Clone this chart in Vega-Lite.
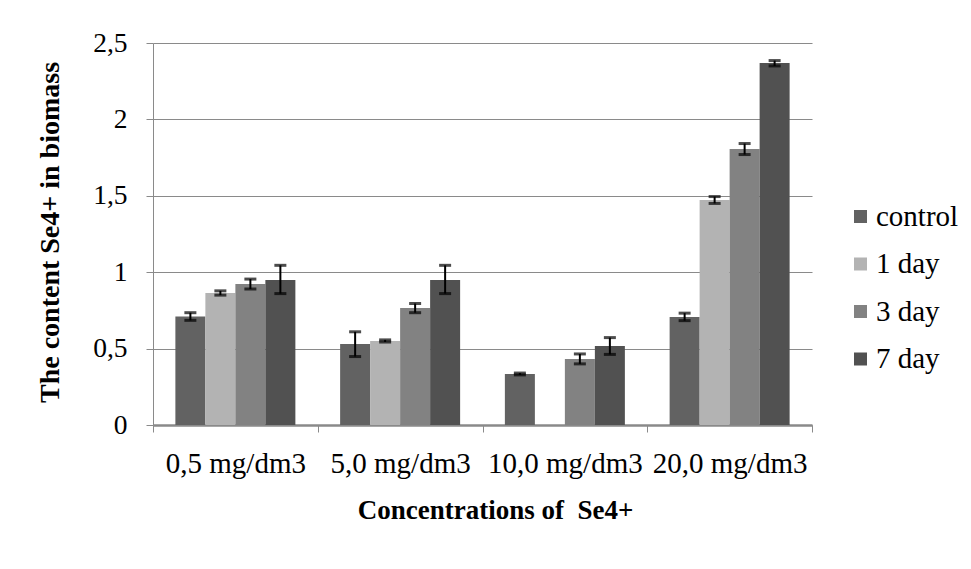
{
  "$schema": "https://vega.github.io/schema/vega-lite/v6.json",
  "width": 659,
  "height": 382,
  "autosize": {"type": "none"},
  "padding": {"left": 153, "top": 43, "right": 159, "bottom": 144},
  "background": "white",
  "data": {
    "values": [
      {"conc": "0,5 mg/dm3", "day": "control", "value": 0.71, "lo": 0.685, "hi": 0.735},
      {"conc": "0,5 mg/dm3", "day": "1 day", "value": 0.864, "lo": 0.85, "hi": 0.878},
      {"conc": "0,5 mg/dm3", "day": "3 day", "value": 0.922, "lo": 0.89, "hi": 0.955},
      {"conc": "0,5 mg/dm3", "day": "7 day", "value": 0.949, "lo": 0.86, "hi": 1.045},
      {"conc": "5,0 mg/dm3", "day": "control", "value": 0.53, "lo": 0.448, "hi": 0.61},
      {"conc": "5,0 mg/dm3", "day": "1 day", "value": 0.55, "lo": 0.543, "hi": 0.557},
      {"conc": "5,0 mg/dm3", "day": "3 day", "value": 0.766, "lo": 0.735, "hi": 0.795},
      {"conc": "5,0 mg/dm3", "day": "7 day", "value": 0.949, "lo": 0.86, "hi": 1.045},
      {"conc": "10,0 mg/dm3", "day": "control", "value": 0.334, "lo": 0.328, "hi": 0.34},
      {"conc": "10,0 mg/dm3", "day": "3 day", "value": 0.432, "lo": 0.4, "hi": 0.465},
      {"conc": "10,0 mg/dm3", "day": "7 day", "value": 0.517, "lo": 0.462, "hi": 0.572},
      {"conc": "20,0 mg/dm3", "day": "control", "value": 0.707, "lo": 0.683, "hi": 0.732},
      {"conc": "20,0 mg/dm3", "day": "1 day", "value": 1.473, "lo": 1.45, "hi": 1.495},
      {"conc": "20,0 mg/dm3", "day": "3 day", "value": 1.806, "lo": 1.77, "hi": 1.842},
      {"conc": "20,0 mg/dm3", "day": "7 day", "value": 2.369, "lo": 2.35, "hi": 2.385}
    ]
  },
  "encoding": {
    "x": {
      "field": "conc",
      "type": "nominal",
      "sort": null,
      "scale": {"paddingInner": 0, "paddingOuter": 0},
      "axis": {
        "title": "Concentrations of \u00a0Se4+",
        "titleFont": "Liberation Serif, Times New Roman, serif",
        "titleFontSize": 27,
        "titleFontWeight": "bold",
        "titleColor": "black",
        "titleX": 342,
        "titleY": 93,
        "titleAlign": "center",
        "titleBaseline": "alphabetic",
        "labelAngle": 0,
        "labelFont": "Liberation Serif, Times New Roman, serif",
        "labelFontSize": 29,
        "labelColor": "black",
        "labelPadding": 17,
        "labelOverlap": false,
        "tickBand": "extent",
        "tickSize": 7,
        "tickColor": "#8a8a8a",
        "domainColor": "#8a8a8a",
        "domainWidth": 2.5,
        "grid": false
      }
    },
    "xOffset": {
      "field": "day",
      "type": "nominal",
      "sort": ["control", "1 day", "3 day", "7 day"],
      "scale": {"domain": ["control", "1 day", "3 day", "7 day"], "paddingInner": 0, "paddingOuter": 0.746}
    }
  },
  "layer": [
    {
      "mark": {"type": "bar"},
      "encoding": {
        "y": {
          "field": "value",
          "type": "quantitative",
          "scale": {"domain": [0, 2.5], "nice": false},
          "axis": {
            "title": "The content Se4+ in biomass",
            "titleFont": "Liberation Serif, Times New Roman, serif",
            "titleFontSize": 28,
            "titleFontWeight": "bold",
            "titleColor": "black",
            "titleAngle": 270,
            "titleX": -95,
            "titleY": 189,
            "titleAlign": "center",
            "titleBaseline": "alphabetic",
            "values": [0, 0.5, 1, 1.5, 2, 2.5],
            "labelExpr": "replace(format(datum.value, '.1~f'), '.', ',')",
            "labelFont": "Liberation Serif, Times New Roman, serif",
            "labelFontSize": 27.5,
            "labelColor": "black",
            "labelPadding": 19,
            "tickSize": 7,
            "tickColor": "#8a8a8a",
            "domainColor": "#8a8a8a",
            "grid": true,
            "gridColor": "#8a8a8a",
            "gridWidth": 1.2
          }
        },
        "color": {
          "field": "day",
          "type": "nominal",
          "scale": {
            "domain": ["control", "1 day", "3 day", "7 day"],
            "range": ["#626262", "#b3b3b3", "#828282", "#515151"]
          },
          "legend": {
            "title": null,
            "orient": "none",
            "legendX": 693,
            "legendY": 159,
            "symbolType": "square",
            "symbolSize": 169,
            "symbolStrokeWidth": 0,
            "labelFont": "Liberation Serif, Times New Roman, serif",
            "labelFontSize": 29,
            "labelColor": "black",
            "labelOffset": 1,
            "rowPadding": 17.5
          }
        }
      }
    },
    {
      "mark": {"type": "rule", "color": "black", "strokeWidth": 2},
      "encoding": {
        "y": {"field": "lo", "type": "quantitative"},
        "y2": {"field": "hi"}
      }
    },
    {
      "mark": {"type": "tick", "color": "black", "size": 12, "thickness": 3},
      "encoding": {
        "y": {"field": "lo", "type": "quantitative"}
      }
    },
    {
      "mark": {"type": "tick", "color": "black", "size": 12, "thickness": 3},
      "encoding": {
        "y": {"field": "hi", "type": "quantitative"}
      }
    }
  ],
  "config": {
    "view": {"stroke": null},
    "font": "Liberation Serif, Times New Roman, serif"
  }
}
